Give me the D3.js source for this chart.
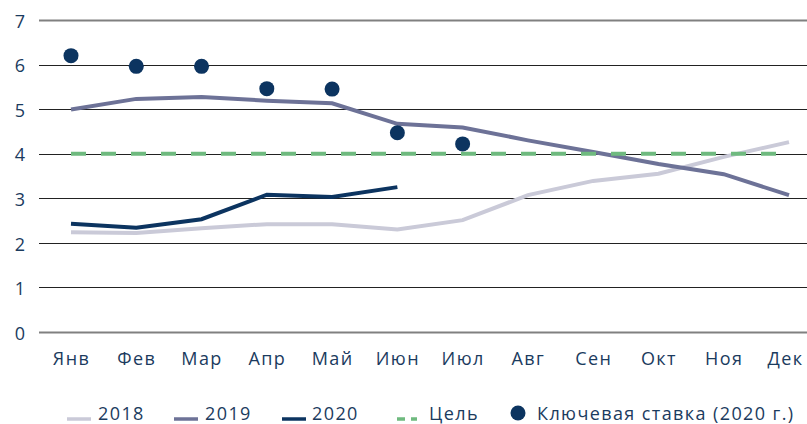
<!DOCTYPE html>
<html>
<head>
<meta charset="utf-8">
<script src="https://cdn.jsdelivr.net/npm/d3@7"></script>
<style>
  body { margin: 0; background: #fff; }
  text { font-family: "Open Sans", sans-serif; fill: #1b3b5e; }
</style>
</head>
<body>
<div id="chart"></div>
<script>
var months = ["Янв", "Фев", "Мар", "Апр", "Май", "Июн", "Июл", "Авг", "Сен", "Окт", "Ноя", "Дек"];
var yTicks = [0, 1, 2, 3, 4, 5, 6, 7];
var values2018 = [2.24, 2.22, 2.33, 2.42, 2.42, 2.3, 2.51, 3.07, 3.39, 3.55, 3.93, 4.26];
var values2019 = [4.99, 5.23, 5.27, 5.19, 5.13, 4.67, 4.59, 4.3, 4.04, 3.77, 3.54, 3.07];
var values2020 = [2.43, 2.34, 2.53, 3.08, 3.03, 3.25];
var target = [4, 4, 4, 4, 4, 4, 4, 4, 4, 4, 4, 4];
var keyRate = [6.2, 5.96, 5.96, 5.46, 5.45, 4.47, 4.22];
var legendNames = ["2018", "2019", "2020", "Цель", "Ключевая ставка (2020 г.)"];

var width = 807, height = 424;
var fontSize = "18px", spacing = "1.4px";

var svg = d3.select("#chart")
    .append("svg")
    .attr("width", width)
    .attr("height", height);

var x = d3.scalePoint()
    .domain(months)
    .range([71, 789]);

var y = d3.scaleLinear()
    .domain([0, 7])
    .range([332, 20]);

// grid lines
svg.append("g")
    .selectAll("line")
    .data(yTicks)
    .enter()
    .append("line")
    .attr("x1", 39)
    .attr("x2", width)
    .attr("y1", function (d) { return Math.round(y(d)) + 0.5; })
    .attr("y2", function (d) { return Math.round(y(d)) + 0.5; })
    .style("stroke", function (d) { return (d == 0 || d == 7) ? "#808080" : "#222"; })
    .style("stroke-width", function (d) { return (d == 0 || d == 7) ? 2 : 1.2; });

// y axis labels
var yAxis = svg.append("g")
    .attr("transform", "translate(25,1.5)")
    .call(d3.axisLeft(y).tickValues(yTicks).tickFormat(d3.format("d")).tickSize(0).tickPadding(0));
yAxis.select(".domain").remove();
yAxis.selectAll("text")
    .style("font-size", fontSize)
    .style("fill", "#1b3b5e")
    .style("font-family", "Open Sans, sans-serif");

// x axis labels
var xAxis = svg.append("g")
    .attr("transform", "translate(0,352)")
    .call(d3.axisBottom(x).tickSize(0).tickPadding(0));
xAxis.select(".domain").remove();
xAxis.selectAll("text")
    .style("font-size", fontSize)
    .style("letter-spacing", spacing)
    .style("fill", "#1b3b5e")
    .style("font-family", "Open Sans, sans-serif")
    .attr("dx", function (d, i) { return i == months.length - 1 ? -4 : 0; });

var line = d3.line()
    .x(function (d, i) { return x(months[i]); })
    .y(function (d) { return y(d); });

svg.append("path")
    .datum(values2018)
    .attr("d", line)
    .style("fill", "none")
    .style("stroke", "#cacad8")
    .style("stroke-width", 4);

svg.append("path")
    .datum(values2019)
    .attr("d", line)
    .style("fill", "none")
    .style("stroke", "#6d7297")
    .style("stroke-width", 4);

svg.append("path")
    .datum(target)
    .attr("d", line)
    .style("fill", "none")
    .style("stroke", "#6fba7f")
    .style("stroke-width", 4)
    .style("stroke-dasharray", "15,15");

svg.append("path")
    .datum(values2020)
    .attr("d", line)
    .style("fill", "none")
    .style("stroke", "#0c3460")
    .style("stroke-width", 4);

svg.append("g")
    .selectAll("circle")
    .data(keyRate)
    .enter()
    .append("circle")
    .attr("cx", function (d, i) { return x(months[i]); })
    .attr("cy", function (d) { return y(d); })
    .attr("r", 7.5)
    .style("fill", "#0c3460");

// legend
var ly = 420;
var lineLegend = [
    {x: 67, color: "#cacad8", tx: 98},
    {x: 174, color: "#6d7297", tx: 205},
    {x: 282, color: "#0c3460", tx: 312}
];
lineLegend.forEach(function (l, i) {
    svg.append("line")
        .attr("x1", l.x).attr("x2", l.x + 24)
        .attr("y1", ly - 1).attr("y2", ly - 1)
        .style("stroke", l.color)
        .style("stroke-width", 3.5);
    svg.append("text")
        .attr("x", l.tx).attr("y", ly)
        .style("font-size", fontSize)
        .style("letter-spacing", spacing)
        .text(legendNames[i]);
});
svg.append("line")
    .attr("x1", 397).attr("x2", 417)
    .attr("y1", ly - 1).attr("y2", ly - 1)
    .style("stroke", "#6fba7f")
    .style("stroke-width", 3.5)
    .style("stroke-dasharray", "8,6");
svg.append("text")
    .attr("x", 429).attr("y", ly)
    .style("font-size", fontSize)
    .style("letter-spacing", spacing)
    .text(legendNames[3]);
svg.append("circle")
    .attr("cx", 518).attr("cy", ly - 7)
    .attr("r", 7.5)
    .style("fill", "#0c3460");
svg.append("text")
    .attr("x", 537).attr("y", ly)
    .style("font-size", fontSize)
    .style("letter-spacing", spacing)
    .text(legendNames[4]);
</script>
</body>
</html>
